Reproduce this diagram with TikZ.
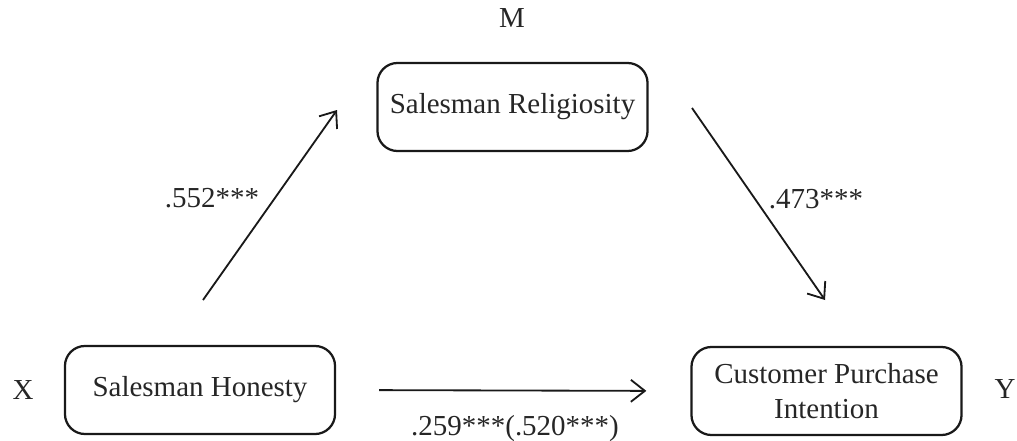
\documentclass[tikz,border=0pt]{standalone}
\usepackage{fontspec}
\setmainfont{Liberation Serif}
\usepackage{tikz}
\usetikzlibrary{shapes,arrows.meta,positioning}
\tikzstyle{arrow} = [draw, line width=1.3pt, color=black!90, -{Straight Barb[length=3.5mm,width=5.5mm]}]
\tikzstyle{box} = [draw, line width=1.6pt, color=black!90, text=black!85, rounded corners=0.5cm, align=center, minimum width=6.75cm, minimum height=2.2cm, inner sep=0pt]
\tikzstyle{lbl} = [inner sep=0pt, anchor=base, text=black!85]

\begin{document}
\begin{tikzpicture} [x=0.025cm, y=-0.025cm]
  \fontsize{20.6}{24.8}\selectfont

  \useasboundingbox (0,0) rectangle (1017,440);

  \node[box] (rel) at (512.5,107) {Salesman Religiosity};
  \node[box] (hon) at (200,390) {Salesman Honesty};
  \node[box] (cpi) at (826.5,391) {Customer Purchase\\Intention};

  \node[lbl] (m) at (512,28) {M};
  \node[lbl] (x) at (23,399) {X};
  \node[lbl] (y) at (1005,398) {Y};

  \coordinate (hrstart) at (203,300);
  \coordinate (hrend) at (337,110);
  \coordinate (rcstart) at (692,108);
  \coordinate (rcend) at (825,300);

  \draw[arrow] (hrstart) -- (hrend);
  \draw[arrow] (rcstart) -- (rcend);
  \draw[arrow, shorten <=1.075cm, shorten >=1.1cm] (hon.east) -- (cpi.west);

  \node[lbl] (a) at (212,207) {.552***};
  \node[lbl] (b) at (816,208) {.473***};
  \node[lbl] (c) at (515,435) {.259***(.520***)};

\end{tikzpicture}
\end{document}
